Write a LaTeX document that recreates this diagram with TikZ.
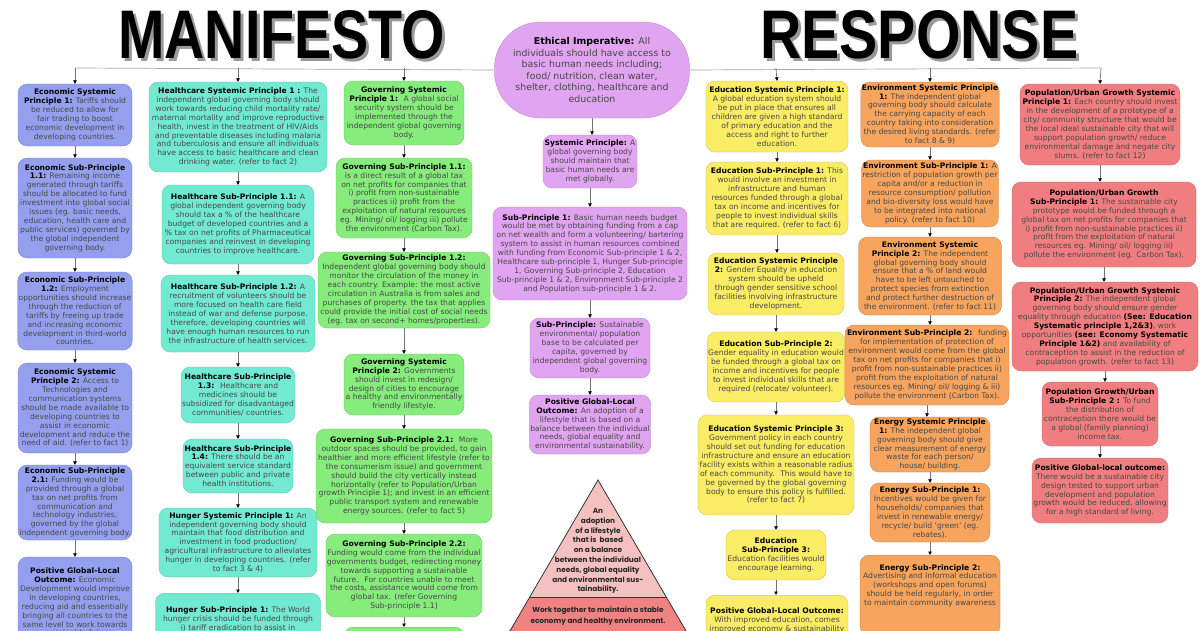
\documentclass[tikz,border=0pt]{standalone}
\usepackage{fontspec}
\usepackage{graphicx}
\setmainfont{DejaVu Sans}
\newfontfamily\pyrfont{Poppins}
\newfontfamily\titlefont{Liberation Sans}
\usetikzlibrary{arrows.meta}
\definecolor{cBlue}{RGB}{148,160,238}
\definecolor{cTeal}{RGB}{114,234,210}
\definecolor{cGreen}{RGB}{134,236,124}
\definecolor{cPurple}{RGB}{224,164,240}
\definecolor{cYellow}{RGB}{250,236,100}
\definecolor{cOrange}{RGB}{246,164,94}
\definecolor{cRed}{RGB}{240,126,128}
\definecolor{pyrTop}{RGB}{244,192,192}
\definecolor{pyrBot}{RGB}{240,130,130}
\newcommand{\hd}[1]{\textbf{\color{black}#1}}
\newcommand{\linkbox}[2]{\draw[arr] (#1.south) -- (#1.south |- #2.north);}
\newcommand{\shadowed}[3]{\makebox[0pt][l]{\hspace{3pt}\raisebox{-3pt}{\resizebox{#2}{#3}{\color{black!40}\titlefont\bfseries #1}}}\resizebox{#2}{#3}{\titlefont\bfseries #1}}
\tikzset{
  bx/.style={rounded corners=9pt, fill=#1, draw=#1!80!black, line width=0.3pt,
    align=center, inner sep=1pt, text=black!72, font=\fontsize{7.6}{8.9}\selectfont},
  arr/.style={draw=black!55, line width=0.7pt, -{Triangle[length=3.5pt,width=3.5pt,color=black]}},
  topline/.style={draw=black!35, line width=0.7pt},
  pyrtext/.style={align=center, font=\pyrfont\bfseries\fontsize{7.3}{9.8}\selectfont, text=black!85},
  title/.style={inner sep=0pt, anchor=north west},
}
\begin{document}
\begin{tikzpicture}[x=1pt,y=-1pt]
\useasboundingbox (0,0) rectangle (1200,630);
\fill[white] (0,0) rectangle (1200,630);

% titles
\node[title] (tm) at (118,10) {\shadowed{MANIFESTO}{327pt}{48pt}};
\node[title] (tr) at (760,10) {\shadowed{RESPONSE}{318pt}{48pt}};

% centre column
\node[bx=cPurple, rounded corners=46pt, minimum width=195pt, minimum height=96pt,
  font=\fontsize{9.4}{11.5}\selectfont] (Eth) at (592,70)
 {\hd{Ethical Imperative:} All\\individuals should have access to\\basic human needs including;\\food/ nutrition, clean water,\\shelter, clothing, healthcare and\\education};
\node[bx=cPurple, minimum width=94pt, minimum height=53pt] (SP) at (590,161.5)
 {\hd{Systemic Principle:} A\\global governing body\\should maintain that\\basic human needs are\\met globally.};
\node[bx=cPurple, minimum width=194pt, minimum height=93pt] (S1) at (590,253.5)
 {\hd{Sub-Principle 1:} Basic human needs budget\\would be met by obtaining funding from a cap\\on net wealth and form a volunteering/ bartering\\system to assist in human resources combined\\with funding from Economic Sub-principle 1 \& 2,\\Healthcare sub-principle 1, Hunger Sub-principle\\1, Governing Sub-principle 2, Education\\Sub-principle 1 \& 2, Environment Sub-principle 2\\and Population sub-principle 1 \& 2.};
\node[bx=cPurple, minimum width=120pt, minimum height=60pt] (S2) at (590,348)
 {\hd{Sub-Principle:} Sustainable\\environmental/ population\\base to be calculated per\\capita, governed by\\independent global governing\\body.};
\node[bx=cPurple, minimum width=120pt, minimum height=59pt] (PO) at (590,424.5)
 {\hd{Positive Global-Local}\\\hd{Outcome:} An adoption of a\\lifestyle that is based on a\\balance between the individual\\needs, global equality and\\environmental sustainability.};
\linkbox{Eth}{SP}
\linkbox{SP}{S1}
\linkbox{S1}{S2}
\linkbox{S2}{PO}

% pyramid
\fill[pyrTop] (598,480) -- (530,597) -- (666,597) -- cycle;
\fill[pyrBot] (530,597) -- (493,660) -- (703,660) -- (666,597) -- cycle;
\draw[black!80, line width=0.8pt] (493,660) -- (598,480) -- (703,660);
\draw[black!80, line width=0.8pt] (530,597) -- (666,597);
\node[pyrtext] (pyrA) at (598,551)
 {An\\adoption\\of a lifestyle\\that is \ based\\on a balance\\between the individual\\needs, global equality\\and environmental sus-\\tainability.};
\node[pyrtext, font=\pyrfont\bfseries\fontsize{7.3}{10.5}\selectfont] (pyrB) at (598,616)
 {Work together to maintain a stable\\economy and healthy environment.};

% top connector line
\coordinate (t1) at (75,68);
\coordinate (t2) at (238,68);
\coordinate (t3) at (404,68);
\coordinate (t5) at (776,68);
\coordinate (t6) at (930,68);
\coordinate (t7) at (1101,68);
\draw[topline] (t1) -- (Eth.west);
\draw[topline] (Eth.east) -- (t7);

% column 1 economic
\node[bx=cBlue, minimum width=114pt, minimum height=62pt] (E1) at (75,115)
 {\hd{Economic Systemic}\\\hd{Principle 1:} Tariffs should\\be reduced to allow for\\fair trading to boost\\economic development in\\developing countries.};
\node[bx=cBlue, minimum width=114pt, minimum height=100pt] (E11) at (75,208)
 {\hd{Economic Sub-Principle}\\\hd{1.1:} Remaining income\\generated through tariffs\\should be allocated to fund\\investment into global social\\issues (eg. basic needs,\\education, health care and\\public services) governed by\\the global independent\\governing body.};
\node[bx=cBlue, minimum width=114pt, minimum height=78pt] (E12) at (75,311)
 {\hd{Economic Sub-Principle}\\\hd{1.2:} Employment\\opportunities should increase\\through the reduction of\\tariffs by freeing up trade\\and increasing economic\\development in third-world\\countries.};
\node[bx=cBlue, minimum width=114pt, minimum height=90pt] (E2) at (75,408)
 {\hd{Economic Systemic}\\\hd{Principle 2:} Access to\\Technologies and\\communication systems\\should be made available to\\developing countries to\\assist in economic\\development and reduce the\\need of aid. (refer to fact 1)};
\node[bx=cBlue, minimum width=114pt, minimum height=75pt] (E21) at (75,502.5)
 {\hd{Economic Sub-Principle}\\\hd{2.1:} Funding would be\\provided through a global\\tax on net profits from\\communication and\\technology industries,\\governed by the global\\independent governing body.};
\node[bx=cBlue, minimum width=114pt, minimum height=90pt] (EO) at (75,602)
 {\hd{Positive Global-Local}\\\hd{Outcome:} Economic\\Development would improve\\in developing countries,\\reducing aid and essentially\\bringing all countries to the\\same level to work towards\\a sustainable future.};
\draw[arr] (t1) -- (E1.north);
\linkbox{E1}{E11}
\linkbox{E11}{E12}
\linkbox{E12}{E2}
\linkbox{E2}{E21}
\linkbox{E21}{EO}

% column 2 healthcare / hunger
\node[bx=cTeal, minimum width=178pt, minimum height=90pt] (H1) at (238,127)
 {\hd{Healthcare Systemic Principle 1 :} The\\independent global governing body should\\work towards reducing child mortality rate/\\maternal mortality and improve reproductive\\health, invest in the treatment of HIV/Aids\\and preventable diseases including malaria\\and tuberculosis and ensure all individuals\\have access to basic healthcare and clean\\drinking water. (refer to fact 2)};
\node[bx=cTeal, minimum width=152pt, minimum height=79pt] (H11) at (238,224.5)
 {\hd{Healthcare Sub-Principle 1.1:} A\\global independent governing body\\should tax a \% of the healthcare\\budget of developed countries and a\\\% tax on net profits of Pharmaceutical\\companies and reinvest in developing\\countries to improve healthcare.};
\node[bx=cTeal, minimum width=154pt, minimum height=77pt] (H12) at (238,313.5)
 {\hd{Healthcare Sub-Principle 1.2:} A\\recruitment of volunteers should be\\more focused on health care field\\instead of war and defense purpose.\\therefore, developing countries will\\have enough human resources to run\\the infrastructure of health services.};
\node[bx=cTeal, minimum width=114pt, minimum height=56pt] (H13) at (238,395)
 {\hd{Healthcare Sub-Principle}\\\hd{1.3:} \ Healthcare and\\medicines should be\\subsidized for disadvantaged\\communities/ countries.};
\node[bx=cTeal, minimum width=110pt, minimum height=54pt] (H14) at (238,466)
 {\hd{Healthcare Sub-Principle}\\\hd{1.4:} There should be an\\equivalent service standard\\between public and private\\health institutions.};
\node[bx=cTeal, minimum width=158pt, minimum height=69pt] (Hu1) at (238,542.5)
 {\hd{Hunger Systemic Principle 1:} An\\independent governing body should\\maintain that food distribution and\\investment in food production/\\agricultural infrastructure to alleviates\\hunger in developing countries. (refer\\to fact 3 \& 4)};
\node[bx=cTeal, minimum width=165pt, minimum height=80pt, anchor=north] (Hu11) at (238,593)
 {\hd{Hunger Sub-Principle 1:} The World\\hunger crisis should be funded through\\i) tariff eradication to assist in\\self-sufficiency (improved economy via\\\strut\\\strut};
\draw[arr] (t2) -- (H1.north);
\linkbox{H1}{H11}
\linkbox{H11}{H12}
\linkbox{H12}{H13}
\linkbox{H13}{H14}
\linkbox{H14}{Hu1}
\linkbox{Hu1}{Hu11}

% column 3 governing
\node[bx=cGreen, minimum width=120pt, minimum height=64pt] (G1) at (404,113)
 {\hd{Governing Systemic}\\\hd{Principle 1:} \ A global social\\security system should be\\implemented through the\\independent global governing\\body.};
\node[bx=cGreen, minimum width=136pt, minimum height=80pt] (G11) at (404,198)
 {\hd{Governing Sub-Principle 1.1:}\\is a direct result of a global tax\\on net profits for companies that\\i) profit from non-sustainable\\practices ii) profit from the\\exploitation of natural resources\\eg. Mining/ oil/ logging iii) pollute\\the environment (Carbon Tax).};
\node[bx=cGreen, minimum width=172pt, minimum height=76pt] (G12) at (404,290)
 {\hd{Governing Sub-Principle 1.2:}\\Independent global governing body should\\monitor the circulation of the money in\\each country. Example: the most active\\circulation in Australia is from sales and\\purchases of property. the tax that applies\\could provide the initial cost of social needs\\(eg. tax on second+ homes/properties).};
\node[bx=cGreen, minimum width=120pt, minimum height=61pt] (G2) at (404,384.5)
 {\hd{Governing Systemic}\\\hd{Principle 2:} Governments\\should invest in redesign/\\design of cities to encourage\\a healthy and environmentally\\friendly lifestyle.};
\node[bx=cGreen, minimum width=176pt, minimum height=94pt] (G21) at (404,476)
 {\hd{Governing Sub-Principle 2.1:} \ More\\outdoor spaces should be provided, to gain\\healthier and more efficient lifestyle (refer to\\the consumerism issue) and government\\should build the city vertically instead\\horizontally (refer to Population/Urban\\growth Principle 1); and invest in an efficient\\public transport system and renewable\\energy sources. (refer to fact 5)};
\node[bx=cGreen, minimum width=153pt, minimum height=83pt] (G22) at (404,575.5)
 {\hd{Governing Sub-Principle 2.2:}\\Funding would come from the individual\\governments budget, redirecting money\\towards supporting a sustainable\\future. \ For countries unable to meet\\the costs, assistance would come from\\global tax. (refer Governing\\Sub-principle 1.1)};
\node[bx=cGreen, minimum width=120pt, minimum height=50pt, anchor=north] (G3) at (404,627) {};
\draw[arr] (t3) -- (G1.north);
\linkbox{G1}{G11}
\linkbox{G11}{G12}
\linkbox{G12}{G2}
\linkbox{G2}{G21}
\linkbox{G21}{G22}
\linkbox{G22}{G3}

% column 5 education
\node[bx=cYellow, minimum width=142pt, minimum height=71pt] (Ed1) at (777,116.5)
 {\hd{Education Systemic Principle 1:}\\A global education system should\\be put in place that ensures all\\children are given a high standard\\of primary education and the\\access and right to further\\education.};
\node[bx=cYellow, minimum width=142pt, minimum height=73pt] (EdS1) at (777,198.5)
 {\hd{Education Sub-Principle 1:} This\\would involve an investment in\\infrastructure and human\\resources funded through a global\\tax on income and incentives for\\people to invest individual skills\\that are required. (refer to fact 6)};
\node[bx=cYellow, minimum width=136pt, minimum height=62pt] (Ed2) at (776,284)
 {\hd{Education Systemic Principle}\\\hd{2:} Gender Equality in education\\system should be upheld\\through gender sensitive school\\facilities involving infrastructure\\development.};
\node[bx=cYellow, minimum width=136pt, minimum height=70pt] (EdS2) at (776,367)
 {\hd{Education Sub-Principle 2:}\\Gender equality in education would\\be funded through a global tax on\\income and incentives for people\\to invest individual skills that are\\required (relocate/ volunteer).};
\node[bx=cYellow, minimum width=156pt, minimum height=100pt] (Ed3) at (776,465)
 {\hd{Education Systemic Principle 3:}\\Government policy in each country\\should set out funding for education\\infrastructure and ensure an education\\facility exists within a reasonable radius\\of each community. \ This would have to\\be governed by the global governing\\body to ensure this policy is fulfilled.\\(refer to fact 7)};
\node[bx=cYellow, minimum width=100pt, minimum height=50pt] (EdS3) at (776,555)
 {\hd{Education}\\\hd{Sub-Principle 3:}\\Education facilities would\\encourage learning.};
\node[bx=cYellow, minimum width=142pt, minimum height=70pt, anchor=north] (EdO) at (777,595)
 {\hd{Positive Global-Local Outcome:}\\With improved education, comes\\improved economy \& sustainability\\\strut\\\strut};
\draw[arr] (t5) -- (Ed1.north);
\linkbox{Ed1}{EdS1}
\linkbox{EdS1}{Ed2}
\linkbox{Ed2}{EdS2}
\linkbox{EdS2}{Ed3}
\linkbox{Ed3}{EdS3}
\linkbox{EdS3}{EdO}

% column 6 environment / energy
\node[bx=cOrange, minimum width=137pt, minimum height=65pt] (En1) at (930,114.5)
 {\hd{Environment Systemic Principle}\\\hd{1:} The independent global\\governing body should calculate\\the carrying capacity of each\\country taking into consideration\\the desired living standards. (refer\\to fact 8 \& 9)};
\node[bx=cOrange, minimum width=137pt, minimum height=67pt] (EnS1) at (930,193.5)
 {\hd{Environment Sub-Principle 1:} A\\restriction of population growth per\\capita and/or a reduction in\\resource consumption/ pollution\\and bio-diversity loss would have\\to be integrated into national\\policy. (refer to fact 10)};
\node[bx=cOrange, minimum width=143pt, minimum height=78pt] (En2) at (930,276)
 {\hd{Environment Systemic}\\\hd{Principle 2:} The independent\\global governing body should\\ensure that a \% of land would\\have to be left untouched to\\protect species from extinction\\and protect further destruction of\\the environment. (refer to fact 11)};
\node[bx=cOrange, minimum width=164pt, minimum height=80pt] (EnS2) at (927,365)
 {\hd{Environment Sub-Principle 2:} \ funding\\for implementation of protection of\\environment would come from the global\\tax on net profits for companies that i)\\profit from non-sustainable practices ii)\\profit from the exploitation of natural\\resources eg. Mining/ oil/ logging \& iii)\\pollute the environment (Carbon Tax).};
\node[bx=cOrange, minimum width=120pt, minimum height=55pt] (Eg1) at (930,444.5)
 {\hd{Energy Systemic Principle}\\\hd{1:} The independent global\\governing body should give\\clear measurement of energy\\waste for each person/\\house/ building.};
\node[bx=cOrange, minimum width=120pt, minimum height=59pt] (EgS1) at (930,512.5)
 {\hd{Energy Sub-Principle 1:}\\Incentives would be given for\\households/ companies that\\invest in renewable energy/\\recycle/ build `green' (eg.\\rebates).};
\node[bx=cOrange, minimum width=140pt, minimum height=80pt, anchor=north] (EgS2) at (930,555)
 {\hd{Energy Sub-Principle 2:}\\Advertising and Informal education\\(workshops and open forums)\\should be held regularly, in order\\to maintain community awareness\\\strut\\\strut};
\draw[arr] (t6) -- (En1.north);
\linkbox{En1}{EnS1}
\linkbox{EnS1}{En2}
\linkbox{En2}{EnS2}
\linkbox{EnS2}{Eg1}
\linkbox{Eg1}{EgS1}
\linkbox{EgS1}{EgS2}

% column 7 population
\node[bx=cRed, minimum width=160pt, minimum height=81pt] (P1) at (1100,124.5)
 {\hd{Population/Urban Growth Systemic}\\\hd{Principle 1:} Each country should invest\\in the development of a prototype of a\\city/ community structure that would be\\the local ideal sustainable city that will\\support population growth/ reduce\\environmental damage and negate city\\slums. (refer to fact 12)};
\node[bx=cRed, minimum width=184pt, minimum height=85pt] (PS1) at (1104,224.5)
 {\hd{Population/Urban Growth}\\\hd{Sub-Principle 1:} The sustainable city\\prototype would be funded through a\\global tax on net profits for companies that\\i) profit from non-sustainable practices ii)\\profit from the exploitation of natural\\resources eg. Mining/ oil/ logging iii)\\pollute the environment (eg. Carbon Tax).};
\node[bx=cRed, minimum width=186pt, minimum height=89pt] (P2) at (1105,326.5)
 {\hd{Population/Urban Growth Systemic}\\\hd{Principle 2:} The independent global\\governing body should ensure gender\\equality through education \hd{(See: Education}\\\hd{Systematic principle 1,2\&3)}, work\\opportunities \hd{(see: Economy Systematic}\\\hd{Principle 1\&2)} and availability of\\contraception to assist in the reduction of\\population growth. (refer to fact 13)};
\node[bx=cRed, minimum width=116pt, minimum height=64pt] (PS2) at (1100,414)
 {\hd{Population Growth/Urban}\\\hd{Sub-Principle 2 :} To fund\\the distribution of\\contraception there would be\\a global (family planning)\\income tax.};
\node[bx=cRed, minimum width=136pt, minimum height=65pt] (PO7) at (1100,490.5)
 {\hd{Positive Global-local outcome:}\\There would be a sustainable city\\design tested to support urban\\development and population\\growth would be reduced, allowing\\for a high standard of living.};
\draw[arr] (t7) -- (P1.north);
\linkbox{P1}{PS1}
\linkbox{PS1}{P2}
\linkbox{P2}{PS2}
\linkbox{PS2}{PO7}
\end{tikzpicture}
\end{document}
